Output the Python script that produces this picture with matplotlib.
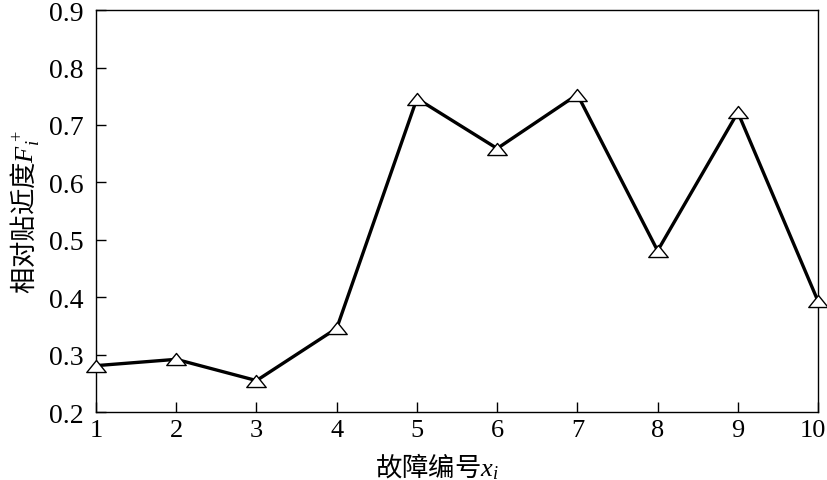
import numpy as np
import matplotlib
matplotlib.use('Agg')
import matplotlib.pyplot as plt
import matplotlib.transforms as mtransforms
from matplotlib.path import Path

plt.rcParams['font.family'] = ['Liberation Serif', 'Noto Sans CJK SC']
plt.rcParams['mathtext.fontset'] = 'custom'
plt.rcParams['mathtext.rm'] = 'Liberation Serif'
plt.rcParams['mathtext.it'] = 'Liberation Serif:italic'
plt.rcParams['axes.unicode_minus'] = False

# data
fault_id = [1, 2, 3, 4, 5, 6, 7, 8, 9, 10]
closeness = [0.281, 0.292, 0.255, 0.346, 0.746, 0.659, 0.753, 0.481, 0.722, 0.393]
xticks = [1, 2, 3, 4, 5, 6, 7, 8, 9, 10]
yticks = [0.2, 0.3, 0.4, 0.5, 0.6, 0.7, 0.8, 0.9]

# flat open triangle like the original
tri = Path([(0, 0.62), (-1, -0.62), (1, -0.62), (0, 0.62)],
           [Path.MOVETO, Path.LINETO, Path.LINETO, Path.CLOSEPOLY])

fig = plt.figure(figsize=(8.28, 4.81), dpi=100)
ax = fig.add_axes([0.116, 0.141, 0.872, 0.836])

ax.plot(fault_id, closeness, 'k-', linewidth=2.4, marker=tri, markersize=14,
        markerfacecolor='white', markeredgecolor='black', markeredgewidth=1.0,
        clip_on=False, zorder=3)

ax.set_xlim(1, 10)
ax.set_ylim(0.2, 0.9)
ax.set_xticks(xticks)
ax.set_yticks(yticks)
ax.set_yticklabels([f'{v:.1f}' for v in yticks])
ax.tick_params(direction='in', length=7, width=1.0, labelsize=20,
               top=False, right=False)
ax.tick_params(axis='y', pad=9)
ax.tick_params(axis='x', pad=5, labelsize=19)
for sp in ax.spines.values():
    sp.set_linewidth(1.0)

# nudge the last x label so it stays inside the figure
last = ax.get_xticklabels()[-1]
last.set_transform(last.get_transform() +
                   mtransforms.ScaledTranslation(-5 / 100, 0, fig.dpi_scale_trans))

cjk = ['Noto Sans CJK SC', 'Liberation Serif']
ax.set_xlabel('故障编号$x_i$', fontsize=19, family=cjk, labelpad=0)
ax.xaxis.set_label_coords(0.472, -0.095)
ax.set_ylabel('相对贴近度$F_i^+$', fontsize=19, family=cjk, labelpad=6)

fig.savefig('out.png', dpi=100)
